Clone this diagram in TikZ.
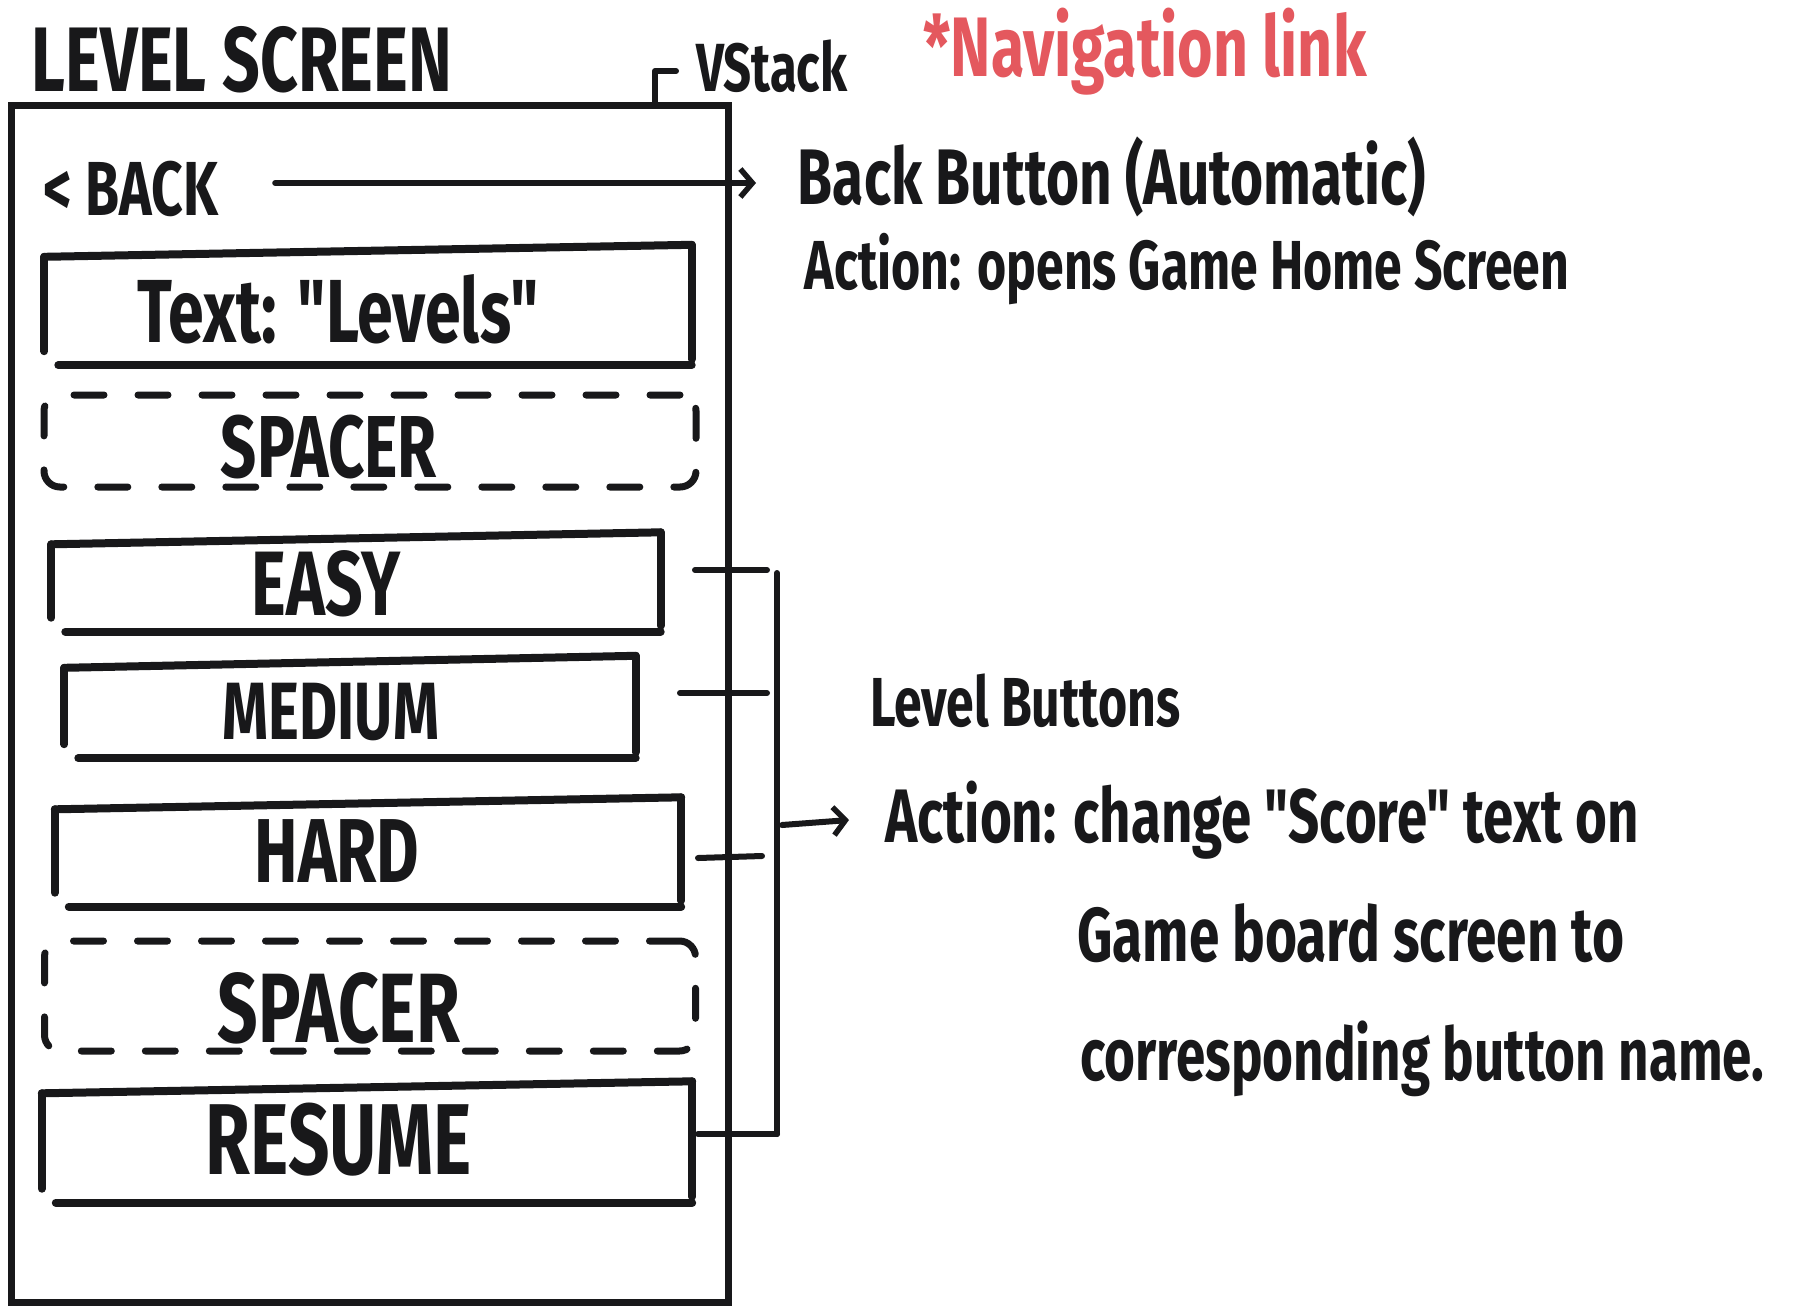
\documentclass[tikz,border=0pt]{standalone}
\usepackage{fontspec}
\setmainfont{Fira Sans}
\newfontfamily\hand{Fira Sans}[FakeStretch=0.72]
\usetikzlibrary{arrows.meta}
\definecolor{ink}{RGB}{24,24,26}
\definecolor{navred}{RGB}{228,88,94}
\newcommand\fitw[2]{\resizebox{#1pt}{!}{\hand\bfseries #2}}
\newcommand\handbox[1]{%
  \draw[stroke] ([yshift=-12pt]#1.north west) -- (#1.north east);
  \draw[stroke] ([yshift=-12pt]#1.north west) -- ([yshift=14pt]#1.south west);
  \draw[stroke] (#1.north east) -- ([yshift=6pt]#1.south east);
  \draw[stroke] ([xshift=14pt]#1.south west) -- (#1.south east);}
\begin{document}
\begin{tikzpicture}[x=1pt,y=-1pt,
  stroke/.style={draw=ink,line width=8pt,line cap=round,line join=round},
  thinstroke/.style={draw=ink,line width=6pt,line cap=round,line join=round},
  boxnode/.style={inner sep=0pt},
  lbl/.style={inner sep=0pt,text=ink},
  spacerbox/.style={draw=ink,line width=7pt,line cap=round,dash pattern=on 30pt off 34pt,rounded corners=16pt,inner sep=0pt},
  hook/.style={-{Straight Barb[length=12pt,width=28pt,line width=5.5pt]}}
]
\useasboundingbox (0,0) rectangle (1796,1315);
\fill[white] (0,0) rectangle (1796,1315);

% outer screen frame
\node[draw=ink,line width=7pt,inner sep=0pt,minimum width=717pt,minimum height=1197pt] (screen) at (369.5,703.5) {};

% titles
\node[lbl] (title) at (242,60) {\fitw{420}{LEVEL SCREEN}};
\node[lbl] (vstack) at (772,66) {\fitw{151}{VStack}};
\node[inner sep=0pt,text=navred] (nav) at (1145,52) {\fitw{443}{*Navigation link}};
\coordinate (vsTop) at (655,71);
\draw[thinstroke] (vsTop |- screen.north) -- (vsTop) -- (676,71);

% back
\node[lbl] (back) at (131,189) {\fitw{174}{< BACK}};
\node[lbl] (backlbl) at (1112,177) {\fitw{628}{Back Button (Automatic)}};
\node[lbl] (backact) at (1187,269) {\fitw{764}{Action: opens Game Home Screen}};
\coordinate (backtip) at (756,183);
\draw[thinstroke,hook] ([xshift=57pt]back.east |- backtip) -- (backtip);

% boxes
\node[boxnode,minimum width=647pt,minimum height=120pt] (txt) at (368,305) {};
\node[lbl] (txtl) at (338,309) {\fitw{401}{Text: "Levels"}};
\handbox{txt}

\node[spacerbox,minimum width=652pt,minimum height=92pt] (sp1) at (370,441) {};
\node[lbl] (sp1l) at (329,447) {\fitw{216}{SPACER}};

\node[boxnode,minimum width=609pt,minimum height=99pt] (easy) at (356,582) {};
\node[lbl] (easyl) at (326,584) {\fitw{149}{EASY}};
\handbox{easy}

\node[boxnode,minimum width=571pt,minimum height=102pt] (medium) at (350,707) {};
\node[lbl] (mediuml) at (331,712) {\fitw{216}{MEDIUM}};
\handbox{medium}

\node[boxnode,minimum width=626pt,minimum height=109pt] (hard) at (368,852) {};
\node[lbl] (hardl) at (337,851) {\fitw{165}{HARD}};
\handbox{hard}

\node[spacerbox,minimum width=651pt,minimum height=110pt] (sp2) at (370,996) {};
\node[lbl] (sp2l) at (339,1008) {\fitw{242}{SPACER}};

\node[boxnode,minimum width=650pt,minimum height=121pt] (resume) at (367,1142) {};
\node[lbl] (resumel) at (339,1140) {\fitw{266}{RESUME}};
\handbox{resume}

% bracket
\coordinate (brtop) at (777,573);
\coordinate (brbot) at (777,1134);
\draw[thinstroke] (brtop) -- (brbot);
\draw[thinstroke] (695,570) -- (767,570);
\draw[thinstroke] (680,693) -- (767,693);
\draw[thinstroke] (698,858) -- (762,856);
\draw[thinstroke] (698,1134) -- (brbot);
\coordinate (brmid) at (782,825);
\node[lbl,anchor=west] (lvl) at (870,701) {\fitw{310}{Level Buttons}};
\node[lbl,anchor=west] (act1) at (885,820) {\fitw{753}{Action: change "Score" text on}};
\node[lbl,anchor=west] (act2) at (1077,933) {\fitw{547}{Game board screen to}};
\node[lbl,anchor=west] (act3) at (1080,1059) {\fitw{684}{corresponding button name.}};
\draw[thinstroke,hook] (brmid) -- ([xshift=-36pt]act1.west);
\end{tikzpicture}
\end{document}
